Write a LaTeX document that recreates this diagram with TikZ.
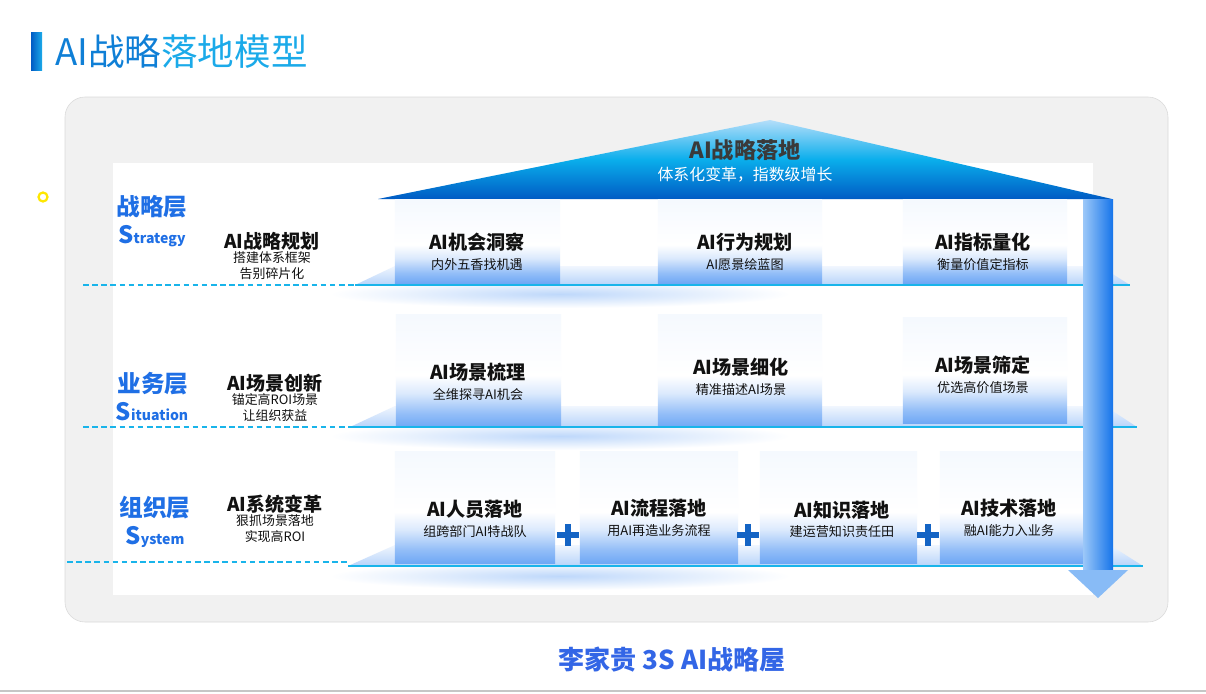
\documentclass[tikz,border=0pt]{standalone}
\usepackage{fontspec}
\setmainfont{Noto Sans CJK SC}
\usetikzlibrary{positioning,shadings}
\definecolor{TitleDeep}{HTML}{0F7FD6}
\definecolor{TitleLight}{HTML}{1BAAE9}
\definecolor{PanelGray}{HTML}{F1F1F1}
\definecolor{PanelEdge}{HTML}{D9D9D9}
\definecolor{RoofTop}{HTML}{B4DEFA}
\definecolor{RoofMid}{HTML}{0AAEEC}
\definecolor{RoofBase}{HTML}{005BC4}
\definecolor{CardBlue}{HTML}{6FA8F5}
\definecolor{FloorCyan}{HTML}{19B4EA}
\definecolor{LayerBlue}{HTML}{1F6FE5}
\definecolor{PlusBlue}{HTML}{1464C4}
\definecolor{ArrowLight}{HTML}{9CC8F8}
\definecolor{ArrowDeep}{HTML}{1574EA}
\definecolor{InkDark}{HTML}{111111}
\definecolor{RoofInk}{HTML}{3A3A3A}
\definecolor{FootBlue}{HTML}{3366E6}
% the path box is mapped onto 25bp..75bp of the shading
\pgfdeclareverticalshading{cardfade}{100bp}{color(0bp)=(CardBlue); color(25bp)=(CardBlue); color(31bp)=(CardBlue!75); color(40bp)=(CardBlue!25); color(48bp)=(white); color(75bp)=(CardBlue!7); color(100bp)=(CardBlue!7)}
\pgfdeclareverticalshading{rooffade}{100bp}{color(0bp)=(RoofBase); color(25bp)=(RoofBase); color(50bp)=(RoofMid); color(75bp)=(RoofTop); color(100bp)=(RoofTop)}

\begin{document}
\begin{tikzpicture}[x=0.025cm,y=-0.025cm,
      card/.style={inner sep=0pt,shading=cardfade},
      ctitle/.style={inner sep=0pt,font=\fontsize{13.6}{14}\selectfont\bfseries,text=InkDark},
      csub/.style={inner sep=0pt,font=\fontsize{9.3}{10}\selectfont,text=InkDark},
      ltitle/.style={inner sep=0pt,font=\fontsize{13.5}{14}\selectfont\bfseries,text=InkDark},
      lsub/.style={inner sep=0pt,align=center,font=\fontsize{9.2}{11.4}\selectfont,text=InkDark},
      lyr/.style={inner sep=0pt,font=\fontsize{16.8}{17}\selectfont\bfseries,text=LayerBlue},
      lyren/.style={inner sep=0pt,font=\fontsize{10}{11}\selectfont\bfseries,text=LayerBlue},
      plate/.style={top color=CardBlue!10,bottom color=CardBlue!50,draw=none},
      floor/.style={FloorCyan,line width=1.4pt},
      dashfloor/.style={FloorCyan,line width=1.3pt,dash pattern=on 4pt off 2.5pt},
      glow/.style={inner color=CardBlue!45,outer color=white,draw=none},
      plusbar/.style={PlusBlue,line width=4.2pt}]
  \useasboundingbox (0,0) rectangle (1206,693);

  % title
  \fill[left color=RoofBase,right color=TitleLight] (31,32) rectangle (42,70);
  \node[anchor=west,inner sep=0pt,font=\fontsize{26}{28}\selectfont] (title) at (55,52)
    {\color{TitleDeep}AI战略\color{TitleLight}落地模型};
  \draw[yellow!90!orange,line width=1.6pt,fill=white] (43,197) circle (3.2pt);

  % panels
  \draw[PanelEdge,fill=PanelGray,rounded corners=0.5cm] (65,97) rectangle (1168,622);
  \fill[white] (113,163) rectangle (1093,595);

  % roof
  \shade[shading=rooffade] (378,199) -- (770,120) -- (1112,199) -- cycle;
  \node[inner sep=0pt,font=\fontsize{15.8}{16}\selectfont\bfseries,text=RoofInk] (roofT) at (745,150) {AI战略落地};
  \node[inner sep=0pt,font=\fontsize{11.3}{12}\selectfont,text=white,below=4.5pt of roofT] (roofS) {体系化变革，指数级增长};

  % floor plates
  \shade[glow] (560,294) ellipse (230 and 14);
  \shade[glow] (560,436) ellipse (230 and 14);
  \shade[glow] (560,576) ellipse (230 and 14);
  \shade[plate] (355,285) -- (395,266) -- (1100,266) -- (1130,285) -- cycle;
  \shade[plate] (350,427) -- (395,406) -- (1105,406) -- (1137,427) -- cycle;
  \shade[plate] (348,566) -- (395,545) -- (1110,545) -- (1143,566) -- cycle;

  % strategy row
  \node[card,minimum width=4.125cm,minimum height=2.075cm] (insight) at (477.5,241.5) {};
  \node[card,minimum width=4.1cm,minimum height=2.075cm] (behave) at (740,241.5) {};
  \node[card,minimum width=4.1cm,minimum height=2.075cm] (metric) at (985,241.5) {};
  \node[ctitle] (insightT) at (477,242) {AI机会洞察};
  \node[csub,below=4.5pt of insightT] (insightS) {内外五香找机遇};
  \node[ctitle] (behaveT) at (745,242) {AI行为规划};
  \node[csub,below=4.5pt of behaveT] (behaveS) {AI愿景绘蓝图};
  \node[ctitle] (metricT) at (983,242) {AI指标量化};
  \node[csub,below=4.5pt of metricT] (metricS) {衡量价值定指标};

  % situation row
  \node[card,minimum width=4.125cm,minimum height=2.8cm] (sort) at (478.5,371) {};
  \node[card,minimum width=4.1cm,minimum height=2.8cm] (refine) at (740,371) {};
  \node[card,minimum width=4.1cm,minimum height=2.625cm] (screen) at (985,370.5) {};
  \node[ctitle] (sortT) at (478,372) {AI场景梳理};
  \node[csub,below=4.5pt of sortT] (sortS) {全维探寻AI机会};
  \node[ctitle] (refineT) at (741,367) {AI场景细化};
  \node[csub,below=4.5pt of refineT] (refineS) {精准描述AI场景};
  \node[ctitle] (screenT) at (983,365) {AI场景筛定};
  \node[csub,below=4.5pt of screenT] (screenS) {优选高价值场景};

  % system row
  \node[card,minimum width=4cm,minimum height=2.775cm] (people) at (475,507.5) {};
  \node[card,minimum width=3.95cm,minimum height=2.775cm] (flow) at (659,507.5) {};
  \node[card,minimum width=3.925cm,minimum height=2.775cm] (know) at (838.5,507.5) {};
  \node[card,minimum width=3.575cm,minimum height=2.775cm] (tech) at (1011.5,507.5) {};
  \node[ctitle] (peopleT) at (475,509) {AI人员落地};
  \node[csub,below=4.5pt of peopleT] (peopleS) {组跨部门AI特战队};
  \node[ctitle] (flowT) at (659,508) {AI流程落地};
  \node[csub,below=4.5pt of flowT] (flowS) {用AI再造业务流程};
  \node[ctitle] (knowT) at (842,510) {AI知识落地};
  \node[csub,below=4.5pt of knowT] (knowS) {建运营知识责任田};
  \node[ctitle] (techT) at (1009,508) {AI技术落地};
  \node[csub,below=4.5pt of techT] (techS) {融AI能力入业务};
  \draw[plusbar] (557,535) -- (579,535) (568,524) -- (568,546);
  \draw[plusbar] (737,535) -- (759,535) (748,524) -- (748,546);
  \draw[plusbar] (917,535) -- (939,535) (928,524) -- (928,546);

  % layer names
  \node[lyr] (stratL) at (152,207) {战略层};
  \node[lyren] (stratE) at (152,236) {{\fontsize{17}{17}\selectfont S}trategy};
  \node[lyr] (situL) at (153,384) {业务层};
  \node[lyren] (situE) at (152,412) {{\fontsize{17}{17}\selectfont S}ituation};
  \node[lyr] (sysL) at (155,508) {组织层};
  \node[lyren] (sysE) at (155,537) {{\fontsize{17}{17}\selectfont S}ystem};

  \node[ltitle] (planT) at (272,241) {AI战略规划};
  \node[lsub,below=0.8pt of planT] (planS) {搭建体系框架\\告别碎片化};
  \node[ltitle] (innovT) at (275,383) {AI场景创新};
  \node[lsub,below=0.8pt of innovT] (innovS) {锚定高ROI场景\\让组织获益};
  \node[ltitle] (reformT) at (275,504) {AI系统变革};
  \node[lsub,below=0.8pt of reformT] (reformS) {狠抓场景落地\\实现高ROI};

  % floors
  \draw[dashfloor] (83,285) -- (355,285);
  \draw[floor] (355,285) -- (1130,285);
  \draw[dashfloor] (83,427) -- (372,427);
  \draw[floor] (350,427) -- (1137,427);
  \draw[dashfloor] (67,562) -- (350,562);
  \draw[floor] (348,566) -- (1143,566);

  % growth arrow
  \shade[left color=ArrowLight,right color=ArrowDeep] (1083,199) rectangle (1113,570);
  \fill[ArrowLight!85!ArrowDeep] (1068,570) -- (1128,570) -- (1098,598) -- cycle;

  \node[inner sep=0pt,font=\fontsize{18.5}{19}\selectfont\bfseries,text=FootBlue] (foot) at (672,660) {李家贵 3S AI战略屋};
  \draw[gray!45,line width=1.2pt] (0,691) -- (1206,691);
\end{tikzpicture}
\end{document}
